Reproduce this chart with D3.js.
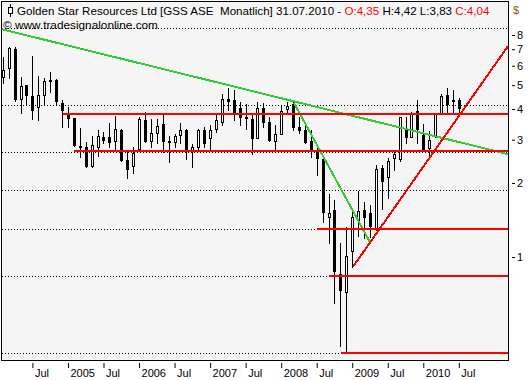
<!DOCTYPE html>
<html>
<head>
<meta charset="utf-8">
<script src="https://cdn.jsdelivr.net/npm/d3@7"></script>
<style>
  body { margin: 0; background: #fff; }
  svg { display: block; font-family: "Liberation Sans", Arial, sans-serif; }
  text { white-space: pre; }
</style>
</head>
<body>
<main></main>
<script>
// monthly candles, Feb 2004 .. Jul 2010
const months = d3.timeMonth.range(new Date(2004, 1, 1), new Date(2010, 7, 1));

const opens = [5.38, 5.85, 7.01, 4.39, 5.01, 4.52, 4.07, 4.57, 5.20, 5.25, 4.25, 3.78, 3.66, 2.79, 2.80, 2.34,
  2.80, 3.08, 3.08, 2.96, 3.29, 2.48, 2.35, 2.76, 3.61, 2.97, 3.19, 3.47, 2.96, 2.95, 3.13, 3.29,
  2.71, 2.81, 3.29, 3.04, 3.31, 3.55, 4.38, 4.35, 4.04, 3.71, 3.64, 3.06, 4.03, 3.55, 2.97, 3.17,
  3.99, 4.21, 3.38, 3.29, 2.96, 2.71, 2.50, 1.45, 1.55, 0.85, 0.72, 1.06, 1.42, 1.55, 1.51, 1.30,
  2.30, 2.11, 2.52, 2.50, 3.33, 3.09, 3.93, 3.13, 2.78, 3.12, 3.84, 4.56, 4.35, 4.35];
const highs = [6.53, 7.12, 7.18, 5.40, 5.03, 6.57, 5.45, 5.35, 5.66, 5.30, 4.35, 4.07, 3.68, 3.35, 2.94, 3.10,
  3.29, 3.21, 3.51, 3.74, 3.32, 2.70, 2.80, 3.71, 3.89, 3.64, 3.64, 3.82, 3.10, 3.17, 3.51, 3.32,
  2.88, 3.32, 3.38, 3.44, 3.86, 4.60, 4.87, 4.78, 4.28, 4.18, 3.84, 4.26, 4.25, 3.71, 3.44, 4.11,
  4.28, 4.30, 3.71, 3.47, 3.29, 2.79, 2.52, 1.80, 1.71, 1.14, 1.33, 1.55, 1.86, 1.67, 1.63, 2.37,
  2.37, 2.53, 2.68, 3.72, 3.71, 3.90, 4.35, 3.47, 3.26, 3.85, 4.62, 4.87, 4.78, 4.42];
const lows = [5.12, 5.35, 4.31, 3.85, 4.15, 3.64, 3.62, 4.19, 4.69, 4.15, 3.38, 3.38, 2.83, 2.55, 2.32, 2.32,
  2.57, 2.92, 2.80, 2.70, 2.46, 2.09, 2.20, 2.74, 2.95, 2.80, 2.92, 2.67, 2.44, 2.80, 2.92, 2.50,
  2.33, 2.75, 2.80, 2.76, 3.23, 3.44, 3.96, 3.61, 3.44, 3.32, 2.63, 3.05, 3.39, 2.97, 2.76, 3.16,
  3.82, 3.30, 3.20, 2.91, 2.55, 2.16, 1.39, 1.14, 0.65, 0.435, 0.41, 0.91, 1.22, 1.19, 1.21, 1.29,
  1.57, 1.74, 2.26, 2.46, 2.92, 3.08, 2.92, 2.69, 2.60, 3.08, 3.82, 3.84, 3.85, 3.83];
const closes = [5.76, 7.06, 4.41, 4.96, 4.58, 3.96, 4.58, 5.22, 5.23, 4.31, 3.98, 3.66, 2.85, 2.84, 2.34, 2.85,
  3.10, 2.99, 2.95, 3.32, 2.47, 2.27, 2.66, 3.64, 2.96, 3.20, 3.41, 2.96, 2.93, 3.10, 3.29, 2.71,
  2.79, 3.29, 2.90, 3.29, 3.61, 4.38, 4.32, 3.84, 3.70, 3.69, 3.04, 4.03, 3.55, 2.99, 3.17, 3.94,
  4.11, 3.39, 3.29, 2.95, 2.71, 2.52, 1.53, 1.51, 0.88, 0.736, 1.01, 1.46, 1.54, 1.46, 1.34, 2.27,
  2.04, 2.46, 2.62, 3.71, 3.08, 3.84, 3.32, 2.72, 2.99, 3.84, 4.52, 4.21, 4.31, 4.04];

// drawing tools
const fibLevels = [8.55, 4.15, 2.665, 1.87, 1.30, 0.837, 0.407];
const supportLevels = [3.83, 2.70, 1.30, 0.837, 0.407];
const supportStart = [10, 12, 53, 55, 57]; // candle index where each line begins
const greenLines = [[[-0.3, 8.45], [85.2, 2.62]], [[49.1, 4.23], [61.9, 1.15]]];
const redTrend = [[59.05, 0.913], [85.2, 7.2]];

const yTicks = [1, 2, 3, 4, 5, 6, 7, 8];
const xTickIndex = [5, 11, 17, 23, 29, 35, 41, 47, 53, 59, 65, 71, 77];
const xTickLabels = ["Jul", "2005", "Jul", "2006", "Jul", "2007", "Jul", "2008", "Jul", "2009", "Jul", "2010", "Jul"];

const w = 528, h = 380;
const frame = {left: 1.5, top: 1.5, right: 508.5, bottom: 360.5};

const x = d3.scaleBand()
  .domain(months.map((d, i) => i))
  .range([0.34, 462.3]);
const xi = d3.scaleLinear()
  .domain([0, months.length - 1])
  .range([x(0) + x.bandwidth() / 2, x(months.length - 1) + x.bandwidth() / 2]);
const y = d3.scaleLog()
  .domain([1, 8])
  .range([257, 35]);

const svg = d3.select("main")
  .append("svg")
  .attr("width", w)
  .attr("height", h)
  .attr("viewBox", `0 0 ${w} ${h}`);

svg.append("defs").append("clipPath").attr("id", "plot")
  .append("rect")
  .attr("x", frame.left).attr("y", frame.top)
  .attr("width", frame.right - frame.left).attr("height", frame.bottom - frame.top);

svg.append("rect")
  .attr("x", frame.left).attr("y", frame.top)
  .attr("width", frame.right - frame.left).attr("height", frame.bottom - frame.top)
  .attr("fill", "#f5f5f5");

let plot = svg.append("g").attr("clip-path", "url(#plot)");

// fib dotted lines
plot.append("g")
  .selectAll("line")
  .data(fibLevels)
  .join("line")
    .attr("x1", frame.left).attr("x2", frame.right)
    .attr("y1", d => Math.round(y(d)) + 0.5)
    .attr("y2", d => Math.round(y(d)) + 0.5)
    .attr("stroke", "#000")
    .attr("stroke-dasharray", "1,2")
    .attr("shape-rendering", "crispEdges");

// candles
const candles = months.map((m, i) => ({i, o: opens[i], h: highs[i], l: lows[i], c: closes[i]}));
const cx = i => Math.floor(xi(i)) + 0.5;

let cg = plot.append("g").attr("shape-rendering", "crispEdges");
cg.selectAll("line")
  .data(candles)
  .join("line")
    .attr("x1", d => cx(d.i)).attr("x2", d => cx(d.i))
    .attr("y1", d => Math.round(y(d.h))).attr("y2", d => Math.round(y(d.l)) + 1)
    .attr("stroke", "#000");

cg.selectAll("rect")
  .data(candles)
  .join("rect")
    .attr("x", d => cx(d.i) - 1)
    .attr("y", d => Math.round(y(Math.max(d.o, d.c))) + 0.5)
    .attr("width", 2)
    .attr("height", d => Math.max(1, Math.round(y(Math.min(d.o, d.c))) - Math.round(y(Math.max(d.o, d.c)))))
    .attr("fill", d => d.c >= d.o ? "#fff" : "#000")
    .attr("stroke", "#000");

// trend lines
let line = d3.line().x(d => xi(d[0])).y(d => y(d[1]));

plot.append("g")
  .selectAll("path")
  .data(greenLines)
  .join("path")
    .attr("d", line)
    .attr("fill", "none")
    .attr("stroke", "#33cc33")
    .attr("stroke-width", 2)
    .attr("shape-rendering", "crispEdges");

plot.append("g")
  .selectAll("line")
  .data(supportLevels)
  .join("line")
    .attr("x1", (d, k) => xi(supportStart[k]))
    .attr("x2", frame.right)
    .attr("y1", d => Math.round(y(d)))
    .attr("y2", d => Math.round(y(d)))
    .attr("stroke", "#ff0000")
    .attr("stroke-width", 2)
    .attr("shape-rendering", "crispEdges");

plot.append("path")
  .attr("d", line(redTrend))
  .attr("fill", "none")
  .attr("stroke", "#ff0000")
  .attr("stroke-width", 2)
  .attr("shape-rendering", "crispEdges");

// frame
svg.append("rect")
  .attr("x", frame.left).attr("y", frame.top)
  .attr("width", frame.right - frame.left).attr("height", frame.bottom - frame.top)
  .attr("fill", "none")
  .attr("stroke", "#000")
  .attr("shape-rendering", "crispEdges");

// header
let icon = svg.append("g").attr("shape-rendering", "crispEdges");
icon.append("line").attr("x1", 10.5).attr("x2", 10.5).attr("y1", 4).attr("y2", 17).attr("stroke", "#000");
icon.append("rect").attr("x", 8.5).attr("y", 7.5).attr("width", 4).attr("height", 6)
  .attr("fill", "#fff").attr("stroke", "#000");

let title = svg.append("text")
  .attr("x", 17).attr("y", 15)
  .attr("font-size", 11.6)
  .attr("fill", "#000");
title.append("tspan").text("Golden Star Resources Ltd [GSS ASE  Monatlich] 31.07.2010 - ");
title.append("tspan").attr("fill", "#ff0000").text("O:4,35");
title.append("tspan").text(" H:4,42 L:3,83 ");
title.append("tspan").attr("fill", "#ff0000").text("C:4,04");

svg.append("text")
  .attr("x", 3).attr("y", 29)
  .attr("font-size", 11.8)
  .text("\u00a9 www.tradesignalonline.com");

// y axis
let yAxis = g => g
  .attr("transform", `translate(512,0)`)
  .call(d3.axisRight(y).tickValues(yTicks).tickSize(3).tickPadding(2).tickFormat(d3.format("d")))
  .call(g => g.select(".domain").remove())
  .call(g => g.selectAll("text").attr("font-size", 11).attr("font-family", null).attr("fill", "#000"));
svg.append("g").call(yAxis);

svg.append("text")
  .attr("x", 513).attr("y", 14)
  .attr("font-size", 11)
  .attr("fill", "#7a5a1a")
  .text("$");

// x axis
let xAxis = g => g
  .attr("transform", `translate(0,363)`)
  .call(d3.axisBottom(x).tickValues(xTickIndex).tickSize(5).tickFormat((d, k) => xTickLabels[k]))
  .call(g => g.select(".domain").remove())
  .call(g => g.selectAll("text")
    .attr("text-anchor", "start")
    .attr("x", 2)
    .attr("y", 14)
    .attr("dy", 0)
    .attr("font-size", 11)
    .attr("font-family", null)
    .attr("fill", "#000"));
svg.append("g").call(xAxis);
</script>
</body>
</html>
